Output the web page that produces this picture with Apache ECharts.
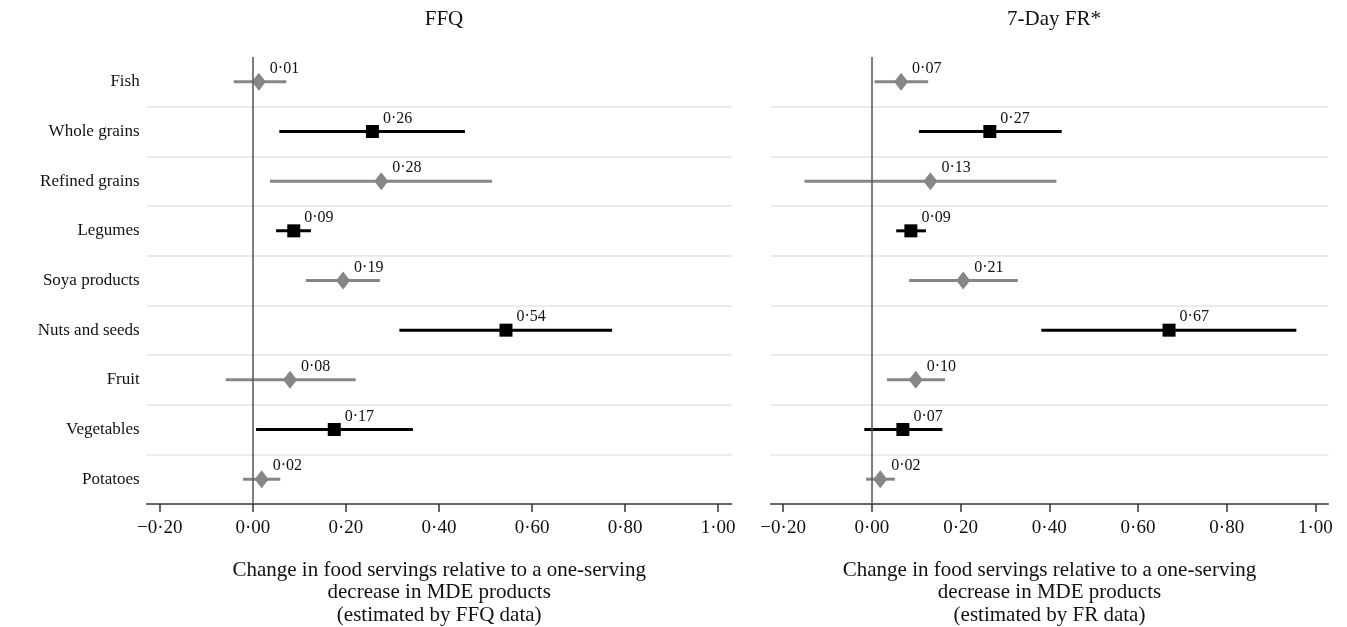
<!DOCTYPE html>
<html>
<head>
<meta charset="utf-8">
<script src="https://cdn.jsdelivr.net/npm/echarts@6/dist/echarts.min.js"></script>
<style>
html,body{margin:0;padding:0;background:#fff;}
#chart{width:1347px;height:627px;}
</style>
</head>
<body>
<div id="chart"></div>
<script>
// ---- data ----
const categories = ['Fish','Whole grains','Refined grains','Legumes','Soya products','Nuts and seeds','Fruit','Vegetables','Potatoes'];
const highlighted = [false,true,false,true,false,true,false,true,false];

const ffqEst  = [0.013, 0.257, 0.276, 0.088, 0.194, 0.544, 0.080, 0.175, 0.019];
const ffqLow  = [-0.041, 0.057, 0.037, 0.050, 0.114, 0.315, -0.058, 0.007, -0.021];
const ffqHigh = [0.072, 0.456, 0.514, 0.125, 0.273, 0.772, 0.221, 0.344, 0.059];

const frEst  = [0.066, 0.266, 0.132, 0.088, 0.206, 0.670, 0.099, 0.070, 0.019];
const frLow  = [0.006, 0.106, -0.152, 0.055, 0.084, 0.382, 0.034, -0.017, -0.013];
const frHigh = [0.127, 0.428, 0.416, 0.122, 0.329, 0.957, 0.165, 0.159, 0.052];

const tickValues = [-0.2, 0, 0.2, 0.4, 0.6, 0.8, 1.0];
const titles = ['FFQ', '7-Day FR*'];
const axisNames = [
  'Change in food servings relative to a one-serving\ndecrease in MDE products\n(estimated by FFQ data)',
  'Change in food servings relative to a one-serving\ndecrease in MDE products\n(estimated by FR data)'
];

// ---- helpers ----
const FONT = '"Liberation Serif", "DejaVu Serif", serif';
const GRAY = '#868686';
const BLACK = '#000000';
const fmt = v => (v < 0 ? '\u2212' : '') + Math.abs(v).toFixed(2).replace('.', '\u00B7');

function xAxisFor(i) {
  return {
    type: 'value', gridIndex: i, min: -0.228, max: 1.029,
    name: axisNames[i], nameLocation: 'middle', nameGap: 55,
    nameTextStyle: {fontFamily: FONT, fontSize: 21, color: '#111', lineHeight: 22.5, verticalAlign: 'top'},
    axisLine: {show: true, lineStyle: {color: '#333', width: 1.5}},
    axisTick: {show: true, customValues: tickValues, length: 8, lineStyle: {color: '#333', width: 1.5}},
    axisLabel: {customValues: tickValues, formatter: fmt, fontFamily: FONT, fontSize: 19, color: '#111', margin: 15},
    splitLine: {show: false}
  };
}
function yAxisFor(i) {
  return {
    type: 'category', gridIndex: i, data: categories, inverse: true,
    axisLine: {show: false}, axisTick: {show: false},
    axisLabel: {show: i === 0, fontFamily: FONT, fontSize: 17, color: '#111', margin: 7},
    splitLine: {show: true, showMinLine: false, showMaxLine: false, lineStyle: {color: '#e4e4e4', width: 1.5}}
  };
}
function barSeries(i, low, high) {
  return {
    type: 'custom', xAxisIndex: i, yAxisIndex: i, z: 2,
    data: categories.map((c, k) => [k, low[k], high[k]]),
    encode: {x: [1, 2], y: 0},
    renderItem: (params, api) => {
      const k = api.value(0);
      const p1 = api.coord([api.value(1), k]);
      const p2 = api.coord([api.value(2), k]);
      return {
        type: 'line',
        shape: {x1: p1[0], y1: p1[1], x2: p2[0], y2: p2[1]},
        style: {stroke: highlighted[k] ? BLACK : GRAY, lineWidth: 3}
      };
    }
  };
}
function pointSeries(i, est) {
  return {
    type: 'scatter', xAxisIndex: i, yAxisIndex: i, z: 3,
    data: est.map((v, k) => [v, k]),
    symbol: (val, p) => highlighted[p.dataIndex] ? 'rect' : 'diamond',
    symbolSize: (val, p) => highlighted[p.dataIndex] ? [13, 13] : [14, 18],
    itemStyle: {color: p => highlighted[p.dataIndex] ? BLACK : GRAY, opacity: 1},
    label: {
      show: true, position: 'right', distance: 0, offset: [4, -13],
      formatter: p => fmt(p.value[0]),
      fontFamily: FONT, fontSize: 16, color: '#111'
    },
    emphasis: {disabled: true},
    markLine: {
      silent: true, symbol: 'none', label: {show: false},
      lineStyle: {color: '#555', width: 1.5, type: 'solid'},
      data: [{xAxis: 0}]
    }
  };
}

const chart = echarts.init(document.getElementById('chart'), null, {renderer: 'canvas'});
chart.setOption({
  animation: false,
  backgroundColor: '#fff',
  title: [
    {text: titles[0], left: 439, top: 4, textAlign: 'center', textStyle: {fontFamily: FONT, fontSize: 21, fontWeight: 'normal', color: '#111'}},
    {text: titles[1], left: 1049, top: 4, textAlign: 'center', textStyle: {fontFamily: FONT, fontSize: 21, fontWeight: 'normal', color: '#111'}}
  ],
  grid: [
    {left: 146.7, right: 615.3, top: 57, bottom: 123, outerBoundsMode: 'none', containLabel: false},
    {left: 770.7, right: 18.7, top: 57, bottom: 123, outerBoundsMode: 'none', containLabel: false}
  ],
  xAxis: [xAxisFor(0), xAxisFor(1)],
  yAxis: [yAxisFor(0), yAxisFor(1)],
  series: [
    barSeries(0, ffqLow, ffqHigh),
    pointSeries(0, ffqEst),
    barSeries(1, frLow, frHigh),
    pointSeries(1, frEst)
  ]
});
</script>
</body>
</html>
